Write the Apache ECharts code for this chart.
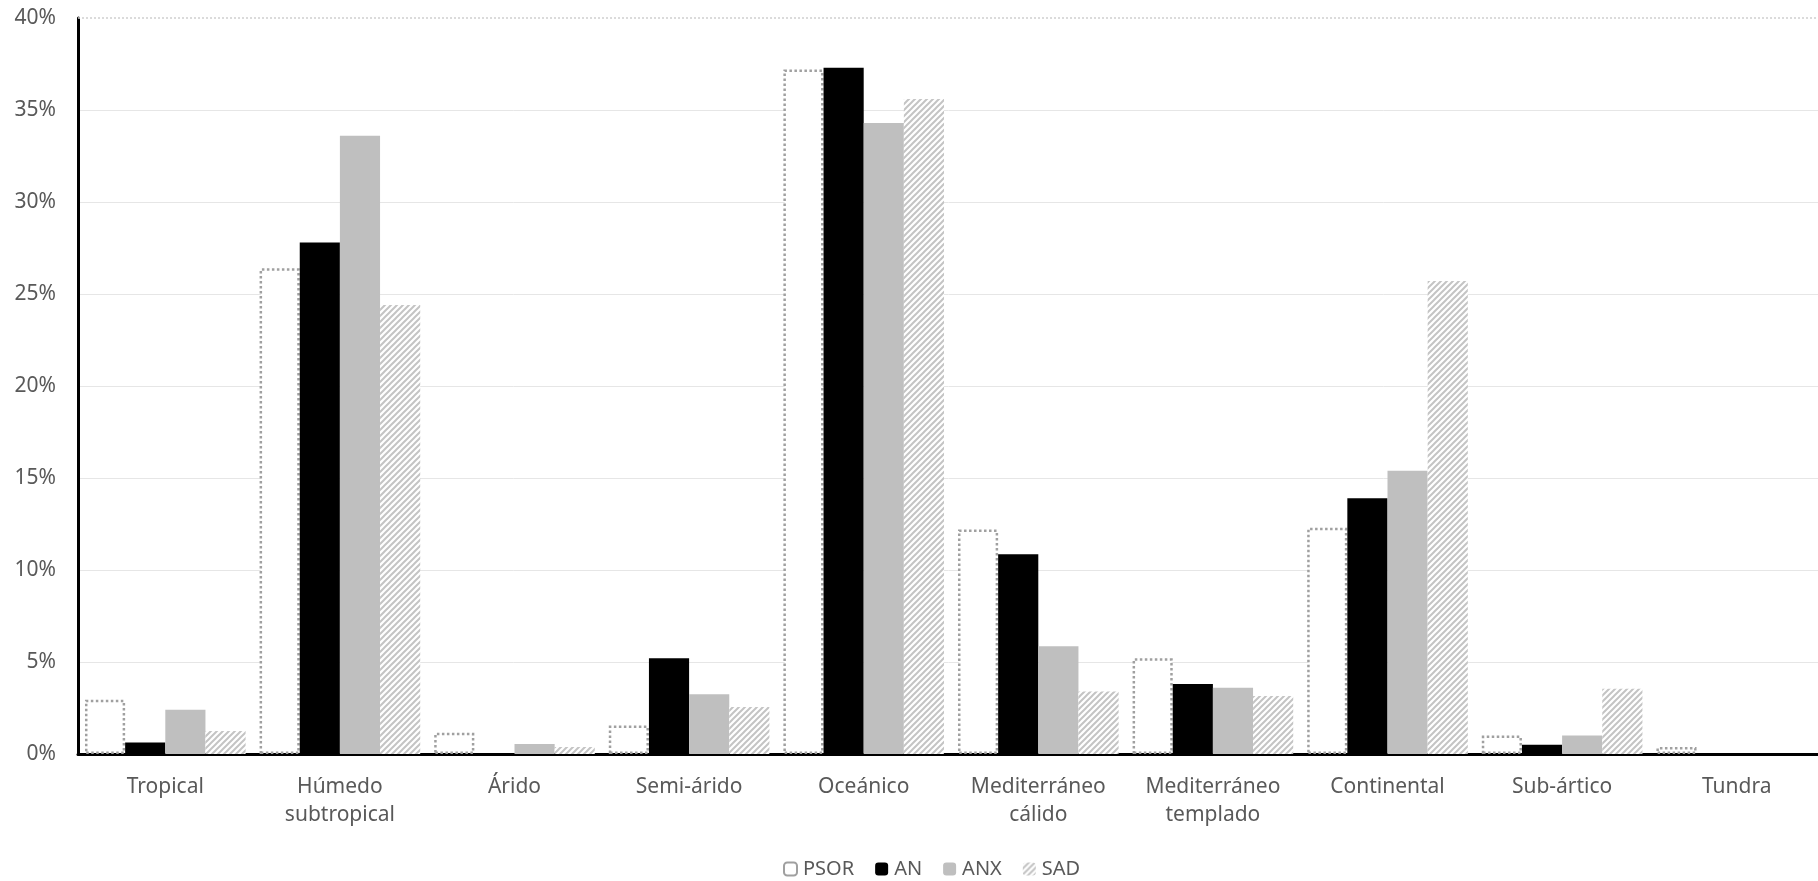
<!DOCTYPE html>
<html>
<head>
<meta charset="utf-8">
<script src="https://cdn.jsdelivr.net/npm/echarts@6/dist/echarts.min.js"></script>
<style>html,body{margin:0;padding:0;background:#fff}#c{width:1818px;height:881px}</style>
</head>
<body>
<div id="c"></div>
<script>
const categories = ['Tropical', 'Húmedo\nsubtropical', 'Árido', 'Semi-árido', 'Oceánico', 'Mediterráneo\ncálido', 'Mediterráneo\ntemplado', 'Continental', 'Sub-ártico', 'Tundra'];
const seriesNames = ['PSOR', 'AN', 'ANX', 'SAD'];
const psor = [2.95, 26.4, 1.15, 1.55, 37.2, 12.2, 5.2, 12.3, 1.0, 0.38];
const an   = [0.63, 27.8, 0, 5.2, 37.3, 10.85, 3.8, 13.9, 0.5, 0];
const anx  = [2.4, 33.6, 0.55, 3.25, 34.3, 5.85, 3.6, 15.4, 1.0, 0];
const sad  = [1.25, 24.4, 0.38, 2.55, 35.6, 3.4, 3.15, 25.7, 3.55, 0];
const yTicks = [0, 5, 10, 15, 20, 25, 30, 35, 40];

function hatch() {
  const s = 6;
  const cv = document.createElement('canvas');
  cv.width = s; cv.height = s;
  const g = cv.getContext('2d');
  g.fillStyle = '#ffffff';
  g.fillRect(0, 0, s, s);
  g.strokeStyle = '#c4c4c4';
  g.lineWidth = 2;
  g.beginPath();
  g.moveTo(0, s); g.lineTo(s, 0);
  g.moveTo(-1, 1); g.lineTo(1, -1);
  g.moveTo(s - 1, s + 1); g.lineTo(s + 1, s - 1);
  g.stroke();
  return cv;
}

const font = 'Noto Sans';
const textColor = '#595959';
const chart = echarts.init(document.getElementById('c'));
const splitColors = yTicks.map((v, i) => i === yTicks.length - 1 ? 'rgba(0,0,0,0)' : '#e6e6e6');

chart.setOption({
  animation: false,
  textStyle: { fontFamily: font },
  grid: { left: 78, right: -6, top: 18, bottom: 127, outerBoundsMode: 'none' },
  legend: {
    bottom: 2,
    left: 783,
    padding: 0,
    itemWidth: 13,
    itemHeight: 13,
    itemGap: 21,
    textStyle: { fontFamily: font, fontSize: 20, color: textColor, padding: [0, 0, 0, 1] },
    data: seriesNames
  },
  xAxis: {
    type: 'category',
    data: categories,
    axisLine: { lineStyle: { color: '#000', width: 3 } },
    axisTick: { show: false },
    axisLabel: { interval: 0, fontFamily: font, fontSize: 21, color: textColor, margin: 19, lineHeight: 28 }
  },
  yAxis: {
    type: 'value',
    min: 0, max: 40, interval: 5,
    axisLine: { show: true, lineStyle: { color: '#000', width: 3 } },
    axisTick: { show: false },
    axisLabel: { fontFamily: font, fontSize: 21, color: textColor, margin: 22, formatter: v => v + '%' },
    splitLine: { lineStyle: { color: splitColors, width: 1 } }
  },
  series: [
    {
      name: seriesNames[0], type: 'bar', data: psor,
      barGap: '0%', barCategoryGap: '8%',
      itemStyle: { color: '#ffffff', borderColor: '#a0a0a0', borderWidth: 2.5, borderType: [2.5, 2.5] },
      markLine: {
        silent: true, symbol: 'none', label: { show: false },
        lineStyle: { color: '#cfcfcf', type: [2, 2], width: 1.5 },
        data: [{ yAxis: 40 }]
      }
    },
    { name: seriesNames[1], type: 'bar', data: an, itemStyle: { color: '#000000' } },
    { name: seriesNames[2], type: 'bar', data: anx, itemStyle: { color: '#bfbfbf' } },
    { name: seriesNames[3], type: 'bar', data: sad, itemStyle: { color: { image: hatch(), repeat: 'repeat' } } }
  ]
});
</script>
</body>
</html>
